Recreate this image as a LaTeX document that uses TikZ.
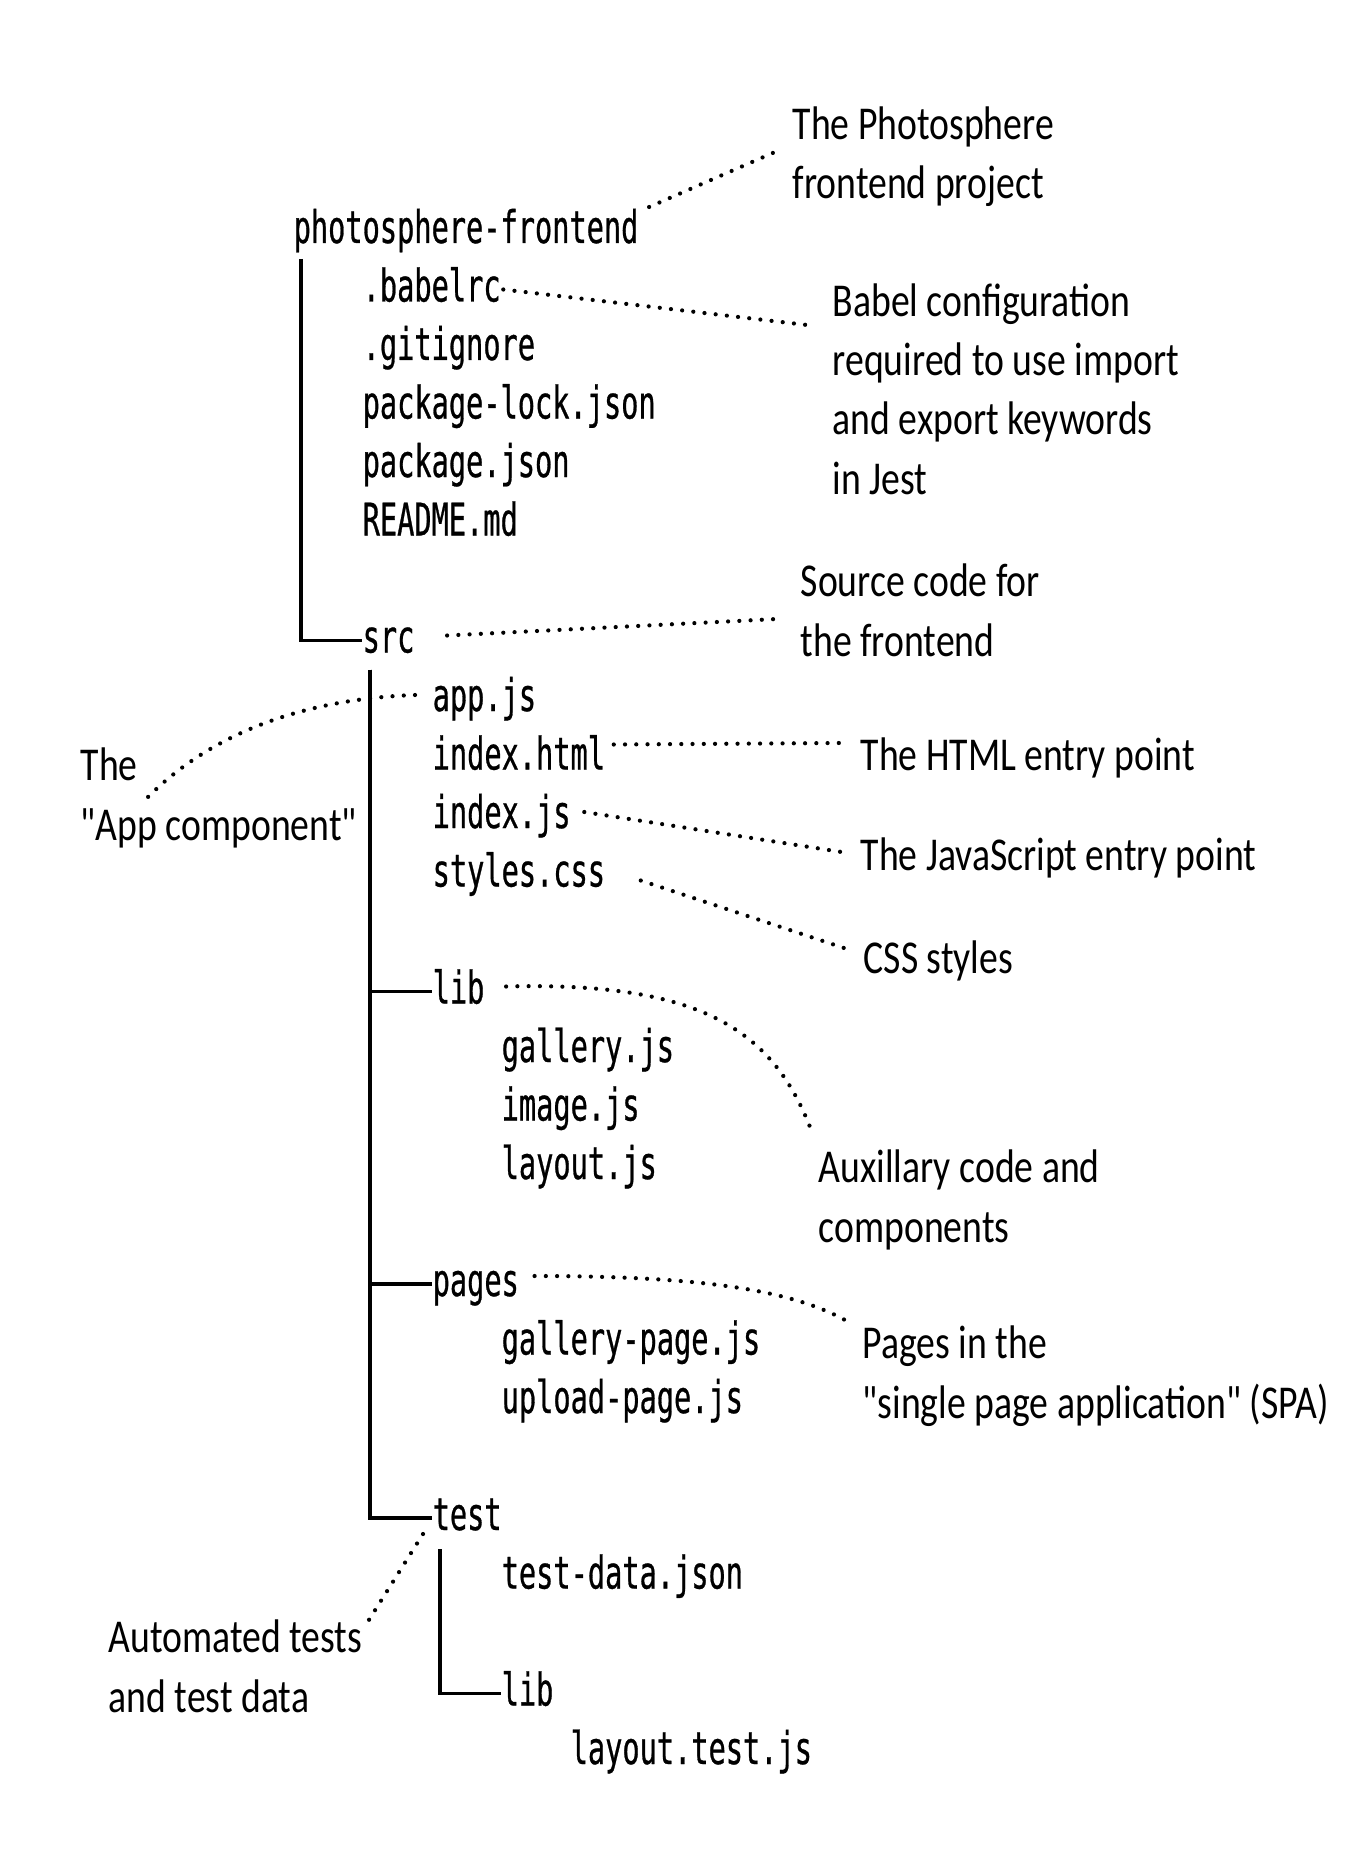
\documentclass[tikz,border=0pt]{standalone}
\usepackage{fontspec}
\newfontfamily\treefont[FakeStretch=0.636,FakeBold=0.6]{DejaVu Sans Mono}
\newfontfamily\notefont[FakeStretch=0.8]{Carlito}
\tikzset{
  entry/.style={anchor=base west,inner sep=0pt,font=\treefont\fontsize{12.8pt}{15pt}\selectfont},
  note/.style={anchor=base west,inner sep=0pt,align=left,font=\notefont\fontsize{13.4pt}{16.8pt}\selectfont},
  branch/.style={line width=1.1pt},
  hint/.style={line width=1.2pt,line cap=round,dash pattern=on 0pt off 3.2pt}
}
\begin{document}
\begin{tikzpicture}[x=0.01cm,y=-0.01cm]
        \useasboundingbox (0,0) rectangle (1361,1870);
        %cartella principale
        \node[entry] (root) at (293,243) {photosphere-frontend};
        \node[entry] (babelrc) at (362,301.5) {.babelrc};
        \node[entry] (gitignore) at (362,360) {.gitignore};
        \node[entry] (lock) at (362,418.5) {package-lock.json};
        \node[entry] (pkg) at (362,477) {package.json};
        \node[entry] (readme) at (362,535.5) {README.md};
        \node[entry] (src) at (362,652.5) {src};
        %src
        \node[entry] (app) at (432,711) {app.js};
        \node[entry] (html) at (432,769.5) {index.html};
        \node[entry] (indexjs) at (432,828) {index.js};
        \node[entry] (styles) at (432,886.5) {styles.css};
        \node[entry] (lib) at (432,1003.5) {lib};
        \node[entry] (gallery) at (501,1062) {gallery.js};
        \node[entry] (image) at (501,1120.5) {image.js};
        \node[entry] (layout) at (501,1179) {layout.js};
        \node[entry] (pages) at (432,1296) {pages};
        \node[entry] (gallerypage) at (501,1354.5) {gallery-page.js};
        \node[entry] (uploadpage) at (501,1413) {upload-page.js};
        \node[entry] (test) at (432,1530) {test};
        \node[entry] (testdata) at (501,1588.5) {test-data.json};
        \node[entry] (testlib) at (501,1705.5) {lib};
        \node[entry] (layouttest) at (570,1764) {layout.test.js};
        % rami
        \draw[branch] ([shift={(8,16)}]root.base west) |- ([shift={(0,-12)}]src.base west);
        \draw[branch] ([shift={(8,17)}]src.base west) |- ([shift={(0,-12)}]lib.base west);
        \draw[branch] ([shift={(8,17)}]src.base west) |- ([shift={(0,-12)}]pages.base west);
        \draw[branch] ([shift={(8,17)}]src.base west) |- ([shift={(0,-12)}]test.base west);
        \draw[branch] ([shift={(8,19)}]test.base west) |- ([shift={(0,-12)}]testlib.base west);
        % note (base = ultima riga)
        \node[note] (projnote) at (792,199) {The Photosphere\\frontend project};
        \node[note] (babelnote) at (832,494) {Babel configuration\\required to use import\\and export keywords\\in Jest};
        \node[note] (srcnote) at (800,656) {Source code for\\the frontend};
        \node[note] (appnote) at (80,840) {The\\"App component"};
        \node[note] (htmlnote) at (860,770) {The HTML entry point};
        \node[note] (jsnote) at (860,870) {The JavaScript entry point};
        \node[note] (cssnote) at (863,973) {CSS styles};
        \node[note] (libnote) at (818,1242) {Auxillary code and\\components};
        \node[note] (pagesnote) at (862,1418) {Pages in the\\"single page application" (SPA)};
        \node[note] (testnote) at (108,1712) {Automated tests\\and test data};
        % linee tratteggiate
        \draw[hint] ([shift={(10,-36)}]root.base east) -- ([shift={(-17,-47)}]projnote.base west);
        \draw[hint] ([shift={(2,-12)}]babelrc.base east) -- ([shift={(-25,-169)}]babelnote.base west);
        \draw[hint] ([shift={(32,-17)}]src.base east) -- ([shift={(-23,-37)}]srcnote.base west);
        \draw[hint] ([shift={(-17,-16)}]app.base west) .. controls +(-85,3) and +(77,-77) .. ([shift={(68,-43)}]appnote.base west);
        \draw[hint] ([shift={(8,-25)}]html.base east) -- ([shift={(-20,-27)}]htmlnote.base west);
        \draw[hint] ([shift={(13,-16)}]indexjs.base east) -- ([shift={(-12,-17)}]jsnote.base west);
        \draw[hint] ([shift={(35,-6)}]styles.base east) -- ([shift={(-13,-23)}]cssnote.base west);
        \draw[hint] ([shift={(21,-17)}]lib.base east) .. controls +(195,-5) and +(-38,-105) .. ([shift={(-5,-107)}]libnote.base west);
        \draw[hint] ([shift={(15,-20)}]pages.base east) .. controls +(167,0) and +(-55,-30) .. ([shift={(-17,-98)}]pagesnote.base west);
        \draw[hint] ([shift={(-9,4)}]test.base west) -- ([shift={(259,-89)}]testnote.base west);
\end{tikzpicture}
\end{document}
